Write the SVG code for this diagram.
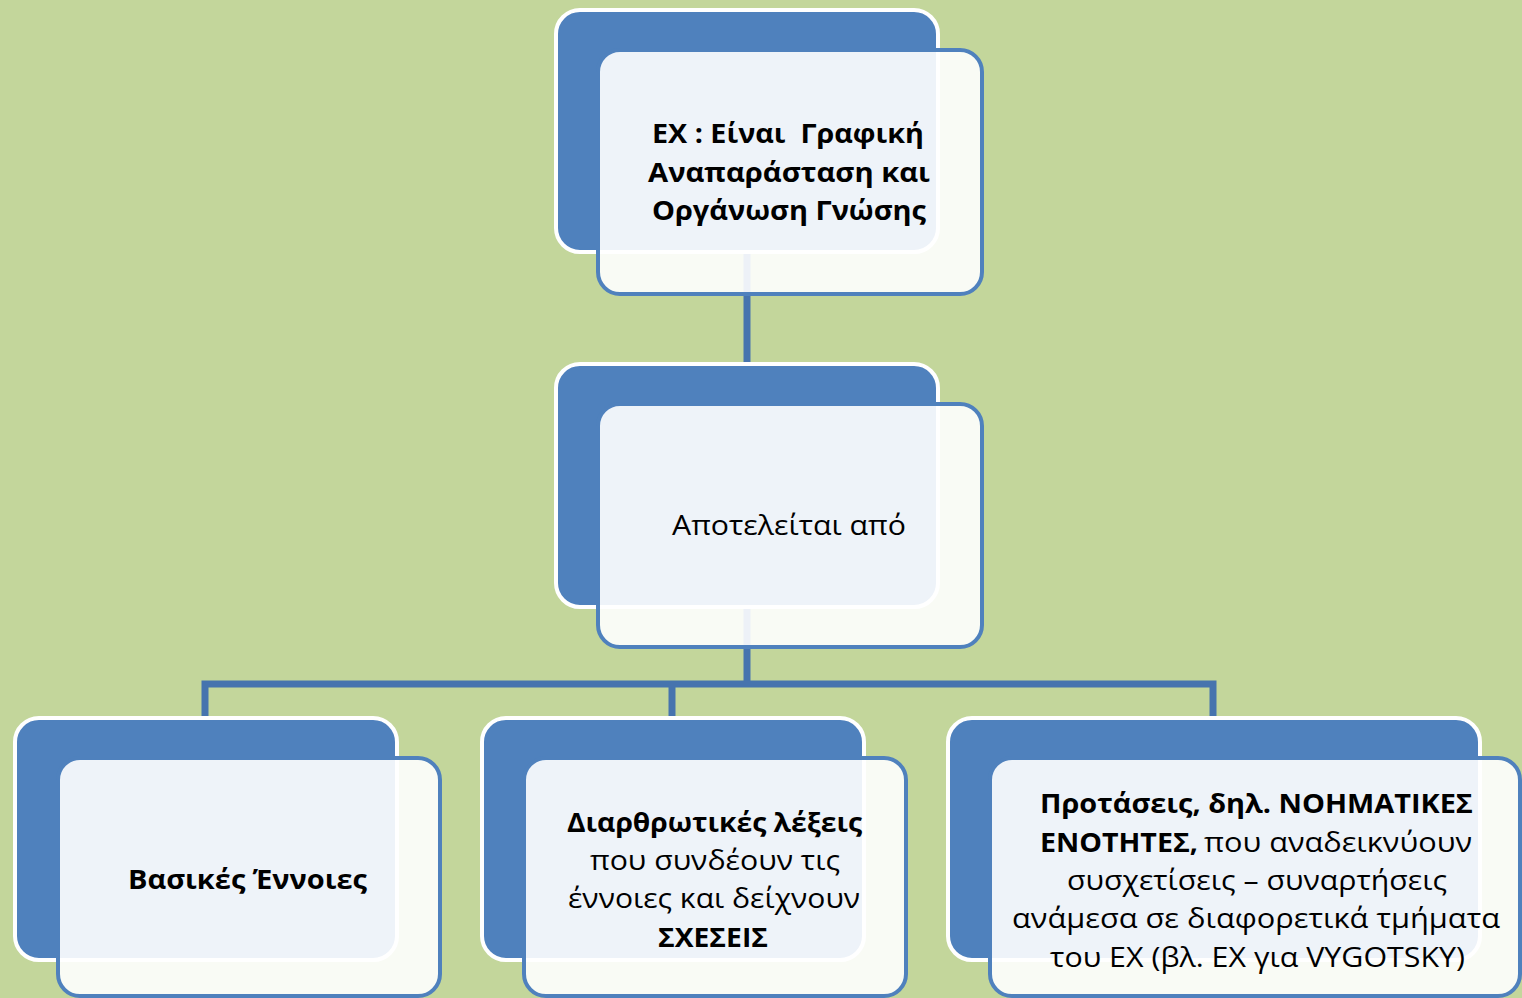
<svg xmlns="http://www.w3.org/2000/svg" width="1522" height="998" viewBox="0 0 1522 998">
<style>
.back{fill:#4F81BD;stroke:#FFFFFF;stroke-width:4}
.front{fill:#FFFFFF;fill-opacity:0.9;stroke:#4F81BD;stroke-width:4}
.conn{fill:none;stroke:#4674AE;stroke-width:7;stroke-linejoin:miter}
.t{font-family:"Open Sans","Noto Sans","Liberation Sans",sans-serif;font-size:27px;fill:#000000}
.b{font-weight:bold}
.pre{white-space:pre}
</style>
<rect x="0" y="0" width="1522" height="998" fill="#C3D69B"/>
<g id="connectors">
<path class="conn" d="M747,252 V364"/>
<path class="conn" d="M747,607 V684"/>
<path class="conn" d="M205,718 V684 H1213 V718"/>
<path class="conn" d="M672,684 V718"/>
</g>
<g id="node-top">
<rect class="back" x="556" y="10" width="382" height="242" rx="24"/>
<rect class="front" x="598" y="50" width="384" height="244" rx="22"/>
<text class="t b pre" x="652" y="143" textLength="272" lengthAdjust="spacingAndGlyphs">ΕΧ : Είναι  Γραφική</text>
<text class="t b" x="648" y="182" textLength="282" lengthAdjust="spacingAndGlyphs">Αναπαράσταση και</text>
<text class="t b" x="652" y="220" textLength="274" lengthAdjust="spacingAndGlyphs">Οργάνωση Γνώσης</text>
</g>
<g id="node-middle">
<rect class="back" x="556" y="364" width="382" height="243" rx="24"/>
<rect class="front" x="598" y="404" width="384" height="243" rx="22"/>
<text class="t" x="672" y="535" textLength="234" lengthAdjust="spacingAndGlyphs">Αποτελείται από</text>
</g>
<g id="node-left">
<rect class="back" x="15" y="718" width="382" height="242" rx="24"/>
<rect class="front" x="58" y="758" width="382" height="238" rx="22"/>
<text class="t b" x="128" y="889" textLength="239" lengthAdjust="spacingAndGlyphs">Βασικές Έννοιες</text>
</g>
<g id="node-center">
<rect class="back" x="482" y="718" width="382" height="242" rx="24"/>
<rect class="front" x="524" y="758" width="382" height="238" rx="22"/>
<text class="t b" x="567" y="832" textLength="295" lengthAdjust="spacingAndGlyphs">Διαρθρωτικές λέξεις</text>
<text class="t" x="590" y="870" textLength="250" lengthAdjust="spacingAndGlyphs">που συνδέουν τις</text>
<text class="t" x="568" y="908" textLength="292" lengthAdjust="spacingAndGlyphs">έννοιες και δείχνουν</text>
<text class="t b" x="658" y="947" textLength="110" lengthAdjust="spacingAndGlyphs">ΣΧΕΣΕΙΣ</text>
</g>
<g id="node-right">
<rect class="back" x="948" y="718" width="532" height="242" rx="24"/>
<rect class="front" x="990" y="758" width="530" height="238" rx="22"/>
<text class="t b" x="1040" y="813" textLength="433" lengthAdjust="spacingAndGlyphs">Προτάσεις, δηλ. ΝΟΗΜΑΤΙΚΕΣ</text>
<text class="t b" x="1040" y="852" textLength="158" lengthAdjust="spacingAndGlyphs">ΕΝΟΤΗΤΕΣ,</text>
<text class="t" x="1204" y="852" textLength="268" lengthAdjust="spacingAndGlyphs">που αναδεικνύουν</text>
<text class="t" x="1067" y="890" textLength="380" lengthAdjust="spacingAndGlyphs">συσχετίσεις – συναρτήσεις</text>
<text class="t" x="1012" y="928" textLength="488" lengthAdjust="spacingAndGlyphs">ανάμεσα σε διαφορετικά τμήματα</text>
<text class="t" x="1050" y="967" textLength="415" lengthAdjust="spacingAndGlyphs">του ΕΧ (βλ. ΕΧ για VYGOTSKY)</text>
</g>
</svg>
